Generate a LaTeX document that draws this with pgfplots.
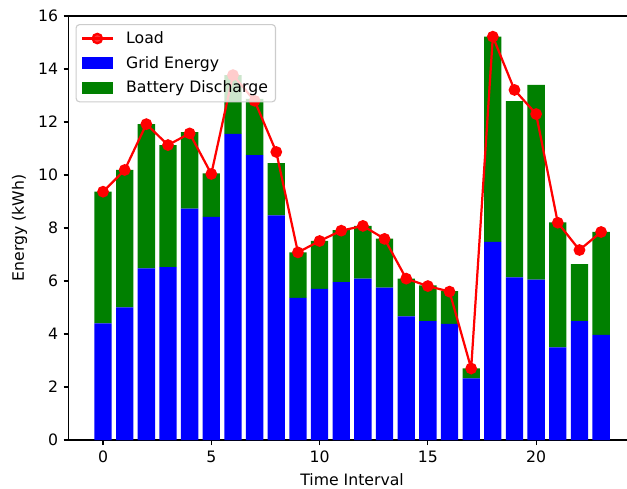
\documentclass[border=0pt]{standalone}
\usepackage{pgfplots}
\pgfplotsset{compat=1.18}
\usepackage{pgfplotstable}
\usepackage{fontspec}
\setmainfont{DejaVu Sans}

\definecolor{mplgreen}{RGB}{0,128,0}
\definecolor{legframe}{RGB}{204,204,204}

\pgfplotstableread{
t grid battery load
0 4.40 4.97 9.37
1 5.01 5.18 10.19
2 6.48 5.44 11.92
3 6.52 4.61 11.13
4 8.73 2.89 11.57
5 8.42 1.64 10.04
6 11.55 2.22 13.77
7 10.75 2.12 12.80
8 8.48 1.97 10.87
9 5.36 1.72 7.08
10 5.70 1.81 7.51
11 5.96 1.96 7.90
12 6.09 1.99 8.08
13 5.75 1.85 7.59
14 4.67 1.42 6.09
15 4.49 1.35 5.81
16 4.38 1.24 5.60
17 2.33 0.37 2.70
18 7.48 7.74 15.22
19 6.14 6.65 13.21
20 6.05 7.35 12.30
21 3.50 4.71 8.20
22 4.49 2.15 7.17
23 3.97 3.88 7.85
}\datatable

\pgfplotsset{
  common/.style={
    scale only axis,
    width=408.2bp, height=305.3bp,
    xmin=-1.59, xmax=24.59,
    ymin=0, ymax=16,
  }
}

\begin{document}
\begin{tikzpicture}
\begin{axis}[
  common,
  name=ax,
  ybar stacked,
  bar width=0.8,
  xtick={0,5,10,15,20},
  ytick={0,2,4,6,8,10,12,14,16},
  tick pos=left,
  tick align=outside,
  major tick length=3.6bp,
  every tick/.style={black, line width=0.8bp},
  axis line style={line width=0.8bp},
  tick label style={font=\fontsize{11.3bp}{13bp}\selectfont},
  label style={font=\fontsize{11.3bp}{13bp}\selectfont},
  /pgf/number format/assume math mode=true,
  xlabel={Time Interval},
  ylabel={Energy (kWh)},
  xticklabel style={yshift=-0.5bp},
  yticklabel style={xshift=-0.5bp},
  xlabel style={yshift=-1bp},
  ylabel style={yshift=1bp},
]
\addplot[fill=blue, draw=none] table[x=t, y=grid] {\datatable};
\addplot[fill=mplgreen, draw=none] table[x=t, y=battery] {\datatable};
\end{axis}
\begin{axis}[
  common,
  hide axis,
  legend cell align=left,
  legend style={
    at={(0,1)}, anchor=north west, xshift=5bp, yshift=-5.8bp,
    fill=white, fill opacity=0.8, text opacity=1, draw opacity=1,
    draw=legframe, line width=0.8bp, rounded corners=2.5bp,
    font=\fontsize{11.3bp}{13bp}\selectfont,
    inner xsep=3.5bp, inner ysep=3bp,
    row sep=3.7bp,
    /tikz/every odd column/.append style={column sep=7bp},
  },
  legend image code/.code={
    \draw[sharp corners, mark repeat=2, mark phase=2, #1] plot coordinates {(0bp,0bp) (11bp,0bp) (22bp,0bp)};
  },
]
\addplot[red, line width=1.6bp, mark=*, mark size=3.4bp, mark options={fill=red, draw=red}] table[x=t, y=load] {\datatable};
\addlegendentry{Load}
\addlegendimage{legend image code/.code={\fill[blue, sharp corners, fill opacity=1] (0bp,-3.8bp) rectangle (22bp,3.8bp);}}
\addlegendentry{Grid Energy}
\addlegendimage{legend image code/.code={\fill[mplgreen, sharp corners, fill opacity=1] (0bp,-3.8bp) rectangle (22bp,3.8bp);}}
\addlegendentry{Battery Discharge}
\end{axis}
\pgfresetboundingbox
\path[use as bounding box] ([xshift=-49.39bp, yshift=-34.56bp]ax.south west) rectangle ([xshift=402.05bp, yshift=316.82bp]ax.south west);
\end{tikzpicture}
\end{document}
